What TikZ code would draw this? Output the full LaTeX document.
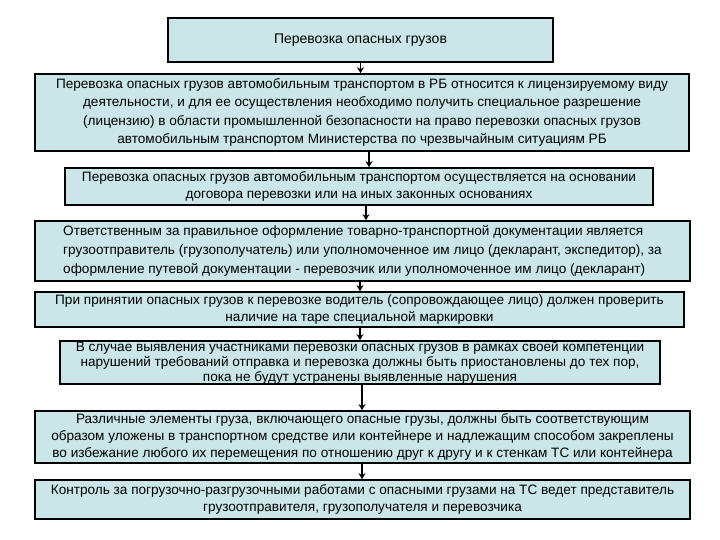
\documentclass[tikz,border=0pt]{standalone}
\usepackage{fontspec}
\setmainfont{Liberation Sans}
\usetikzlibrary{arrows.meta}
\definecolor{boxfill}{RGB}{202,230,232}
\begin{document}
\begin{tikzpicture}[x=1pt,y=-1pt,
  bx/.style={draw=black,line width=1.6pt,fill=boxfill,inner sep=0pt,align=center,font=\fontsize{13.6}{18.5}\selectfont},
  ar/.style={-{Stealth[length=6pt,width=7pt]},line width=1.6pt}]
\useasboundingbox (0,0) rectangle (720,540);
\node[bx,minimum width=385,minimum height=44,font=\fontsize{14}{16}\selectfont] (t) at (360.5,40) {Перевозка опасных грузов};
\node[bx,minimum width=654,minimum height=77] (b1) at (362,112.5) {Перевозка опасных грузов автомобильным транспортом в РБ относится к лицензируемому виду\\ деятельности, и для ее осуществления необходимо получить специальное разрешение\\ (лицензию) в области промышленной безопасности на право перевозки опасных грузов\\ автомобильным транспортом Министерства по чрезвычайным ситуациям РБ};
\node[bx,minimum width=588,minimum height=37,font=\fontsize{13.6}{17}\selectfont] (b2) at (359,186.5) {Перевозка опасных грузов автомобильным транспортом осуществляется на основании\\ договора перевозки или на иных законных основаниях};
\node[bx,minimum width=655,minimum height=60,align=left,font=\fontsize{13.6}{19}\selectfont] (b3) at (362.5,251) {Ответственным за правильное оформление товарно-транспортной документации является\\ грузоотправитель (грузополучатель) или уполномоченное им лицо (декларант, экспедитор), за\\ оформление путевой документации - перевозчик или уполномоченное им лицо (декларант)};
\node[bx,minimum width=649,minimum height=35,font=\fontsize{13.6}{17}\selectfont] (b4) at (359.5,309.5) {При принятии опасных грузов к перевозке водитель (сопровождающее лицо) должен проверить\\ наличие на таре специальной маркировки};
\node[bx,minimum width=600,minimum height=41,font=\fontsize{13.6}{15}\selectfont] (b5) at (360,362.5) {В случае выявления участниками перевозки опасных грузов в рамках своей компетенции\\ нарушений требований отправка и перевозка должны быть приостановлены до тех пор,\\ пока не будут устранены выявленные нарушения};
\node[bx,minimum width=655,minimum height=52,font=\fontsize{13.6}{17}\selectfont] (b6) at (362.5,437) {Различные элементы груза, включающего опасные грузы, должны быть соответствующим\\ образом уложены в транспортном средстве или контейнере и надлежащим способом закреплены\\ во избежание любого их перемещения по отношению друг к другу и к стенкам ТС или контейнера};
\node[bx,minimum width=655,minimum height=39,font=\fontsize{13.6}{17}\selectfont] (b7) at (362.5,499.5) {Контроль за погрузочно-разгрузочными работами с опасными грузами на ТС ведет представитель\\ грузоотправителя, грузополучателя и перевозчика};
\draw[ar] (t.south) -- (b1.north -| t.south);
\draw[ar] (b1.south -| 369,0) -- (b2.north -| 369,0);
\draw[ar] (b2.south -| 366,0) -- (b3.north -| 366,0);
\draw[ar] (b3.south -| 360,0) -- (b4.north -| 360,0);
\draw[ar] (b4.south -| 360,0) -- (b5.north -| 360,0);
\draw[ar] (b5.south -| 362,0) -- (b6.north -| 362,0);
\draw[ar] (b6.south -| 362,0) -- (b7.north -| 362,0);
\end{tikzpicture}
\end{document}
